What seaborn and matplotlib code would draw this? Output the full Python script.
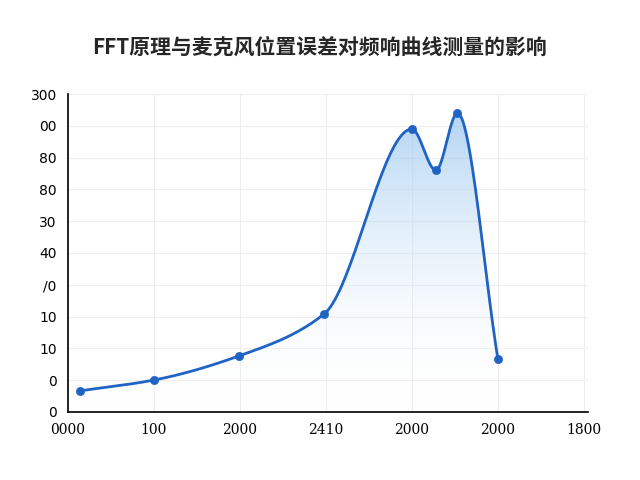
import numpy as np
import matplotlib
matplotlib.use("Agg")
import matplotlib.pyplot as plt
import seaborn as sns

sns.set_theme(style="whitegrid")
plt.rcParams['font.family'] = ['Noto Sans CJK SC', 'DejaVu Sans']

title = "FFT原理与麦克风位置误差对频响曲线测量的影响"
x_vals = [0.14, 1.0, 1.99, 2.98, 4.0, 4.28, 4.53, 5.0]
y_vals = [0.66, 1.0, 1.76, 3.08, 8.9, 7.6, 9.4, 1.67]
x_tick_labels = ["0000", "100", "2000", "2410", "2000", "2000", "1800"]
y_tick_labels = ["0", "0", "10", "10", "/0", "40", "30", "80", "80", "00", "300"]

def pchip(xs, ys, n=40):
    xs = np.asarray(xs); ys = np.asarray(ys)
    h = np.diff(xs); d = np.diff(ys) / h
    m = np.zeros_like(ys)
    for k in range(1, len(xs) - 1):
        if d[k-1] * d[k] > 0:
            w1 = 2*h[k] + h[k-1]; w2 = h[k] + 2*h[k-1]
            m[k] = (w1 + w2) / (w1/d[k-1] + w2/d[k])
    m[0] = d[0]; m[-1] = d[-1]
    ox, oy = [], []
    for k in range(len(xs) - 1):
        t = np.linspace(0, 1, n, endpoint=False)
        h00 = 2*t**3 - 3*t**2 + 1; h10 = t**3 - 2*t**2 + t
        h01 = -2*t**3 + 3*t**2; h11 = t**3 - t**2
        ox.extend(xs[k] + t*h[k])
        oy.extend(h00*ys[k] + h10*h[k]*m[k] + h01*ys[k+1] + h11*h[k]*m[k+1])
    ox.append(xs[-1]); oy.append(ys[-1])
    return np.array(ox), np.array(oy)

sx, sy = pchip(x_vals, y_vals)

fig = plt.figure(figsize=(6.4, 4.8), dpi=100)
ax = fig.add_axes([0.106, 0.142, 0.813, 0.662])
ax.set_xlim(0, 6.05)
ax.set_ylim(0, 10)

grad = np.linspace(0, 1, 256).reshape(-1, 1)
cmap = matplotlib.colors.LinearSegmentedColormap.from_list("g", [(1, 1, 1, 0.0), (0.55, 0.75, 0.93, 0.75)])
im = ax.imshow(grad, extent=[0, 6.05, 0, 10], origin="lower", aspect="auto", cmap=cmap, zorder=1)
clip = matplotlib.patches.Polygon(np.c_[np.r_[sx, sx[-1], sx[0]], np.r_[sy, 0, 0]], transform=ax.transData, facecolor="none", edgecolor="none")
ax.add_patch(clip)
im.set_clip_path(clip)

sns.lineplot(x=sx, y=sy, ax=ax, color="#1f63c4", linewidth=2, zorder=3, sort=False)
sns.scatterplot(x=x_vals, y=y_vals, ax=ax, color="#1f63c4", s=35, zorder=4, edgecolor="#1f63c4")

ax.set_xticks(range(7))
ax.set_xticklabels(x_tick_labels, fontsize=10, family=["DejaVu Serif"])
ax.set_yticks(range(11))
ax.set_yticklabels(y_tick_labels, fontsize=10, family=["DejaVu Sans"])
ax.grid(color="#eeeeee", linewidth=0.8)
for s in ["top", "right"]:
    ax.spines[s].set_visible(False)
for s in ["left", "bottom"]:
    ax.spines[s].set_color("black")
    ax.spines[s].set_linewidth(1.2)
ax.tick_params(axis="both", length=0, pad=8, colors="black")
fig.text(0.5, 0.902, title, ha="center", va="center", fontsize=15, fontweight="bold")
fig.savefig("out.png", dpi=100, facecolor="white")
